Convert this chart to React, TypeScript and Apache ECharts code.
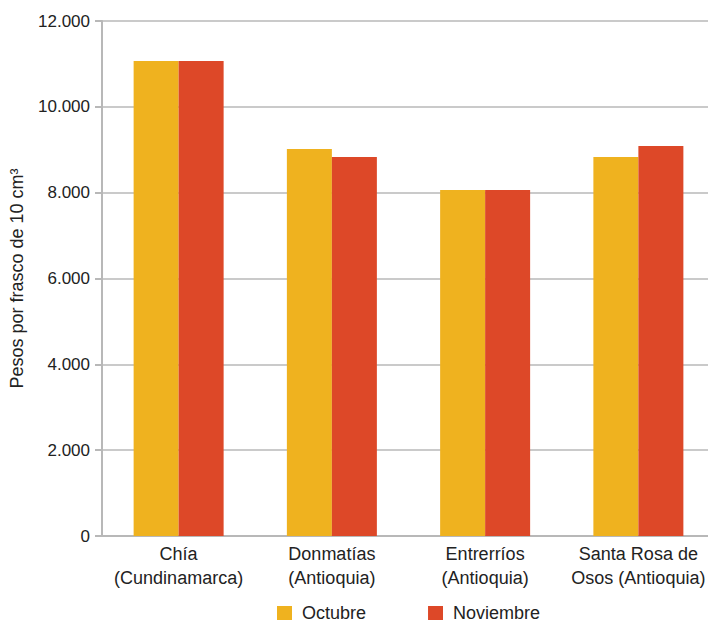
import React, { useEffect, useRef } from "react";
import * as echarts from "echarts";

const categories = ["Chía\n(Cundinamarca)", "Donmatías\n(Antioquia)", "Entrerríos\n(Antioquia)", "Santa Rosa de\nOsos (Antioquia)"];
const octubre = [11070, 9020, 8065, 8830];
const noviembre = [11070, 8830, 8065, 9090];
const seriesNames = ["Octubre", "Noviembre"];
const yAxisName = "Pesos por frasco de 10 cm³";

const FONT = "Liberation Sans, Arial, Helvetica, sans-serif";
const GRAY = "#b8b8b8";

export default function App() {
  const ref = useRef<HTMLDivElement>(null);
  useEffect(() => {
    if (!ref.current) return;
    const chart = echarts.init(ref.current, undefined, { renderer: "svg" });
    chart.setOption({
      animation: false,
      textStyle: { fontFamily: FONT },
      grid: { left: 99, top: 21, width: 616, height: 515, containLabel: false },
      legend: {
        data: seriesNames,
        left: 277,
        top: 604,
        padding: 0,
        icon: "rect",
        itemWidth: 15,
        itemHeight: 14,
        itemGap: 62,
        formatter: (n: string) => " " + n,
        textStyle: { fontSize: 18, lineHeight: 16, color: "#222", fontFamily: FONT },
      },
      xAxis: {
        type: "category",
        data: categories,
        axisLine: { show: true, lineStyle: { color: GRAY, width: 2 } },
        axisTick: { show: false },
        axisLabel: { fontSize: 18, color: "#222", lineHeight: 24, margin: 6, fontFamily: FONT, interval: 0 },
      },
      yAxis: {
        type: "value",
        min: 0,
        max: 12000,
        interval: 2000,
        name: yAxisName,
        nameLocation: "middle",
        nameGap: 76,
        nameTextStyle: { fontSize: 18, color: "#222", fontFamily: FONT },
        axisLine: { show: true, lineStyle: { color: GRAY, width: 2 } },
        axisTick: { show: true, length: 7, lineStyle: { color: GRAY, width: 2 } },
        splitLine: { show: true, lineStyle: { color: GRAY, width: 1.5 } },
        axisLabel: {
          fontSize: 17,
          color: "#222",
          margin: 12,
          fontFamily: FONT,
          formatter: (v: number) => v.toString().replace(/\B(?=(\d{3})+(?!\d))/g, "."),
        },
      },
      series: [
        { name: seriesNames[0], type: "bar", data: octubre, barWidth: 45, barGap: "0%", itemStyle: { color: "#EFB21F" } },
        { name: seriesNames[1], type: "bar", data: noviembre, barWidth: 45, barGap: "0%", itemStyle: { color: "#DD4828" } },
      ],
    });
    return () => chart.dispose();
  }, []);
  return (
    <div style={{ position: "absolute", left: 0, top: 0, width: 708, height: 620, overflow: "hidden" }}>
      <div ref={ref} style={{ position: "absolute", left: 0, top: 0, width: 724, height: 620 }} />
    </div>
  );
}
